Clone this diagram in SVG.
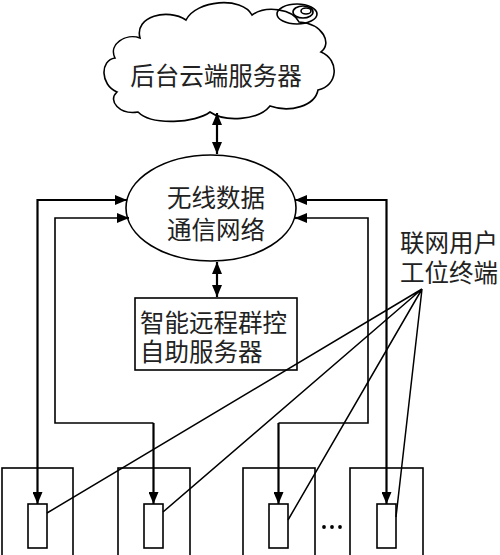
<svg xmlns="http://www.w3.org/2000/svg" width="500" height="555" viewBox="0 0 500 555">
<style>
.shape{fill:#fff;stroke:#000;stroke-width:1.6}
.thin{fill:none;stroke:#000;stroke-width:1.6}
.conn{fill:none;stroke:#000;stroke-width:2.2}
.fan{fill:none;stroke:#000;stroke-width:1.5}
text{font-family:"Liberation Sans","Noto Sans CJK SC",sans-serif;font-size:24.5px;fill:#222;dominant-baseline:central}
</style>
<defs>
<marker id="ah" viewBox="0 0 12 10" refX="12" refY="5" markerWidth="12" markerHeight="10" markerUnits="userSpaceOnUse" orient="auto-start-reverse">
<path d="M0,0 L12,5 L0,10 Z" fill="#000"/>
</marker>
</defs>
<rect width="500" height="555" fill="#fff"/>
<g id="cloud">
<path class="shape" d="M140,38 C134,16 168,8 186,20 C196,0 242,-4 252,15 C266,5 293,9 299,22 C324,24 332,44 321,52 C340,60 338,86 318,90 C315,106 290,113 270,106 C258,121 224,122 210,112 C196,123 152,126 138,112 C120,115 107,101 117,92 C100,85 100,60 115,58 C108,44 126,33 140,38 Z"/>
<ellipse class="thin" cx="297" cy="14" rx="20" ry="10"/>
<ellipse class="thin" cx="303" cy="12" rx="10" ry="6"/>
<ellipse class="thin" cx="306" cy="11" rx="5" ry="3"/>
<text x="216" y="76" text-anchor="middle">后台云端服务器</text>
</g>
<g id="network">
<ellipse class="shape" cx="211" cy="208" rx="85" ry="53"/>
<text x="216" y="198" text-anchor="middle">无线数据</text>
<text x="216" y="230" text-anchor="middle">通信网络</text>
</g>
<g id="server">
<rect class="shape" x="135" y="298" width="162" height="72"/>
<text x="140" y="323">智能远程群控</text>
<text x="140" y="352">自助服务器</text>
</g>
<g id="label">
<text x="400" y="243">联网用户</text>
<text x="400" y="273">工位终端</text>
</g>
<g id="station1">
<rect class="shape" x="2" y="468" width="71" height="95"/>
<rect class="shape" x="28" y="504" width="19" height="44"/>
</g>
<g id="station2">
<rect class="shape" x="118" y="468" width="72" height="95"/>
<rect class="shape" x="144" y="504" width="19" height="44"/>
</g>
<g id="station3">
<rect class="shape" x="243" y="468" width="72" height="95"/>
<rect class="shape" x="269" y="504" width="19" height="44"/>
</g>
<g id="station4">
<rect class="shape" x="350" y="468" width="73" height="95"/>
<rect class="shape" x="377" y="504" width="19" height="44"/>
</g>
<g id="ellipsis">
<circle cx="324" cy="527" r="1.9" fill="#000"/>
<circle cx="332" cy="527" r="1.9" fill="#000"/>
<circle cx="340" cy="527" r="1.9" fill="#000"/>
</g>
<g id="connectors">
<path class="conn" d="M217,113 V154" marker-start="url(#ah)" marker-end="url(#ah)"/>
<path class="conn" d="M217,262 V297" marker-start="url(#ah)" marker-end="url(#ah)"/>
<path class="conn" d="M37.5,504 V200 H127" marker-start="url(#ah)" marker-end="url(#ah)"/>
<path class="thin" d="M153.5,423 H55 V218 H120"/>
<path class="conn" d="M153.5,504 V423" marker-start="url(#ah)"/>
<path class="conn" d="M120,218 H129" marker-end="url(#ah)"/>
<path class="thin" d="M278.5,423 H368 V218 H305"/>
<path class="conn" d="M278.5,504 V423" marker-start="url(#ah)"/>
<path class="conn" d="M305,218 H295" marker-end="url(#ah)"/>
<path class="conn" d="M386.5,504 V200 H295" marker-start="url(#ah)" marker-end="url(#ah)"/>
<path class="fan" d="M47,513 L422,289 M163,512 L422,289 M288,520 L422,289 M396,517 L422,289"/>
</g>
</svg>
